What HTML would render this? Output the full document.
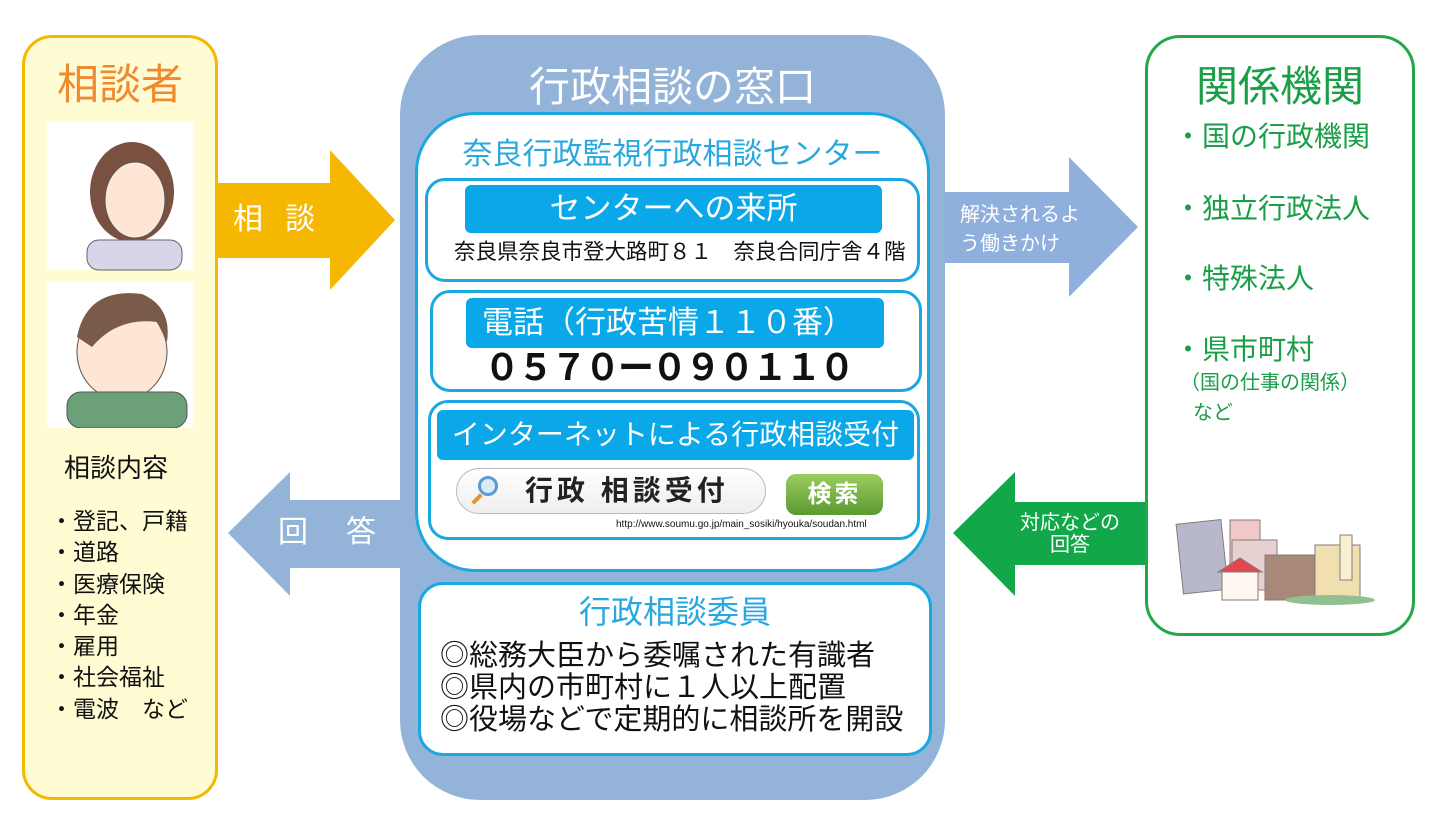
<!DOCTYPE html>
<html><head><meta charset="utf-8"><style>
*{margin:0;padding:0;box-sizing:border-box}
body{width:1430px;height:816px;background:#fff;position:relative;overflow:hidden;font-family:"Liberation Sans","Noto Sans CJK JP",sans-serif}
.a{position:absolute;white-space:nowrap;line-height:1}
.c{text-align:center}
</style></head><body>
<svg class="a" style="left:0;top:0" width="1430" height="816">
<polygon points="218,183 330,183 330,150 395,220 330,290 330,258 218,258" fill="#f6b700"/>
<polygon points="945,192 1069,192 1069,157 1138,227 1069,297 1069,263 945,263" fill="#8fb0dd"/>
<polygon points="1145,502 1015,502 1015,472 953,533 1015,596 1015,565 1145,565" fill="#12a84a"/>
<polygon points="400,500 290,500 290,472 228,533 290,596 290,568 400,568" fill="#93b3d9"/>
<g stroke="#8a7a7a" stroke-width="1">
<rect x="1180" y="522" width="45" height="70" fill="#b8b8cc" transform="rotate(-6 1200 560)"/>
<rect x="1230" y="520" width="30" height="60" fill="#f0c8c8"/>
<rect x="1232" y="540" width="45" height="50" fill="#e8d0d0"/>
<rect x="1265" y="555" width="50" height="45" fill="#a88878"/>
<rect x="1315" y="545" width="45" height="55" fill="#f0e0b0"/>
<rect x="1340" y="535" width="12" height="45" fill="#f8f0d0"/>
<rect x="1222" y="570" width="36" height="30" fill="#fff8f0"/>
<polygon points="1218,572 1240,558 1262,572" fill="#e04850"/>
</g>
<ellipse cx="1330" cy="600" rx="45" ry="5" fill="#90c090"/>
</svg>

<div class="a" style="left:22px;top:35px;width:196px;height:765px;background:#fffbd2;border:3px solid #f5b800;border-radius:30px"></div>
<div class="a c" style="left:22px;top:64px;width:196px;font-size:42px;color:#f08a30">相談者</div>
<div class="a" style="left:47px;top:122px;width:146px;height:148px;background:#fff"></div>
<div class="a" style="left:47px;top:282px;width:146px;height:146px;background:#fff"></div>
<svg class="a" style="left:47px;top:122px" width="146" height="306">
<ellipse cx="85" cy="70" rx="42" ry="50" fill="#7a5040"/>
<ellipse cx="88" cy="78" rx="30" ry="38" fill="#fde6d4" stroke="#555"/>
<rect x="40" y="118" width="95" height="30" rx="12" fill="#d8d4ea" stroke="#666"/>
<ellipse cx="75" cy="230" rx="45" ry="48" fill="#fde6d4" stroke="#555"/>
<path d="M30 215 Q40 165 95 172 Q125 185 120 220 L110 200 Q70 195 45 225Z" fill="#7a5a48"/>
<rect x="20" y="270" width="120" height="36" rx="14" fill="#6ba078" stroke="#555"/>
</svg>
<div class="a" style="left:64px;top:455px;font-size:26px;color:#111">相談内容</div>
<div class="a" style="left:50px;top:506px;font-size:23px;line-height:31.3px;color:#111">・登記、戸籍<br>・道路<br>・医療保険<br>・年金<br>・雇用<br>・社会福祉<br>・電波　など</div>
<div class="a" style="left:233px;top:205px;font-size:30px;color:#fff;letter-spacing:22px">相談</div>
<div class="a" style="left:278px;top:518px;font-size:30px;color:#fff;letter-spacing:38px">回答</div>

<div class="a" style="left:400px;top:35px;width:545px;height:765px;background:#93b3d9;border-radius:80px"></div>
<div class="a c" style="left:400px;top:67px;width:545px;font-size:41px;color:#fff">行政相談の窓口</div>
<div class="a" style="left:415px;top:112px;width:515px;height:460px;background:#fff;border:3px solid #1aa8e0;border-radius:60px"></div>
<div class="a c" style="left:415px;top:140px;width:515px;font-size:30px;color:#29a8e0">奈良行政監視行政相談センター</div>

<div class="a" style="left:425px;top:178px;width:495px;height:104px;border:3px solid #1aa8e0;border-radius:20px"></div>
<div class="a c" style="left:465px;top:185px;width:417px;height:48px;background:#0aa8e8;border-radius:6px;color:#fff;font-size:31px;line-height:48px">センターへの来所</div>
<div class="a" style="left:454px;top:242px;font-size:21.5px;color:#111">奈良県奈良市登大路町８１　奈良合同庁舎４階</div>

<div class="a" style="left:430px;top:290px;width:492px;height:102px;border:3px solid #1aa8e0;border-radius:20px"></div>
<div class="a" style="left:466px;top:298px;width:418px;height:50px;background:#0aa8e8;border-radius:6px;color:#fff;font-size:31px;line-height:50px;padding-left:16px">電話（行政苦情１１０番）</div>
<div class="a" style="left:484px;top:350px;font-size:36px;font-weight:bold;color:#111;letter-spacing:-2.5px">０５７０ー０９０１１０</div>

<div class="a" style="left:428px;top:400px;width:492px;height:140px;border:3px solid #1aa8e0;border-radius:20px"></div>
<div class="a c" style="left:437px;top:410px;width:477px;height:50px;background:#0aa8e8;border-radius:6px;color:#fff;font-size:28px;line-height:50px">インターネットによる行政相談受付</div>
<div class="a" style="left:456px;top:468px;width:310px;height:46px;border:1px solid #bbb;border-radius:23px;background:linear-gradient(#fff,#eee)"></div>
<div class="a" style="left:478px;top:476px;width:20px;height:20px;border:3px solid #5a9ad0;border-radius:50%;background:#d8ecf8"></div>
<div class="a" style="left:471px;top:497px;width:12px;height:4px;background:#e8902a;transform:rotate(-45deg)"></div>
<div class="a" style="left:525px;top:477px;font-size:28px;font-weight:bold;color:#222;letter-spacing:4px">行政 相談受付</div>
<div class="a c" style="left:786px;top:474px;width:97px;height:41px;border-radius:10px;background:linear-gradient(#9ccc60,#5a9a30);color:#fff;font-size:24px;font-weight:bold;line-height:41px;letter-spacing:3px">検索</div>
<div class="a" style="left:616px;top:520px;font-size:10px;color:#111">http://www.soumu.go.jp/main_sosiki/hyouka/soudan.html</div>

<div class="a" style="left:418px;top:582px;width:514px;height:174px;background:#fff;border:3px solid #1aa8e0;border-radius:25px"></div>
<div class="a c" style="left:418px;top:596px;width:514px;font-size:32px;color:#29a8e0">行政相談委員</div>
<div class="a" style="left:440px;top:640px;font-size:29px;line-height:32px;color:#111">◎総務大臣から委嘱された有識者<br>◎県内の市町村に１人以上配置<br>◎役場などで定期的に相談所を開設</div>

<div class="a" style="left:960px;top:201px;font-size:20px;line-height:29px;color:#fff">解決されるよ<br>う働きかけ</div>
<div class="a c" style="left:1000px;top:512px;width:140px;font-size:20px;line-height:22px;color:#fff">対応などの<br>回答</div>

<div class="a" style="left:1145px;top:35px;width:270px;height:601px;border:3px solid #22a84a;border-radius:35px"></div>
<div class="a" style="left:1196px;top:66px;font-size:42px;color:#1a9e48">関係機関</div>
<div class="a" style="left:1174px;top:123px;font-size:28px;color:#1a9e48">・国の行政機関</div>
<div class="a" style="left:1174px;top:195px;font-size:28px;color:#1a9e48">・独立行政法人</div>
<div class="a" style="left:1174px;top:265px;font-size:28px;color:#1a9e48">・特殊法人</div>
<div class="a" style="left:1174px;top:336px;font-size:28px;color:#1a9e48">・県市町村</div>
<div class="a" style="left:1180px;top:373px;font-size:20px;color:#1a9e48">（国の仕事の関係）</div>
<div class="a" style="left:1193px;top:403px;font-size:20px;color:#1a9e48">など</div>
</body></html>
